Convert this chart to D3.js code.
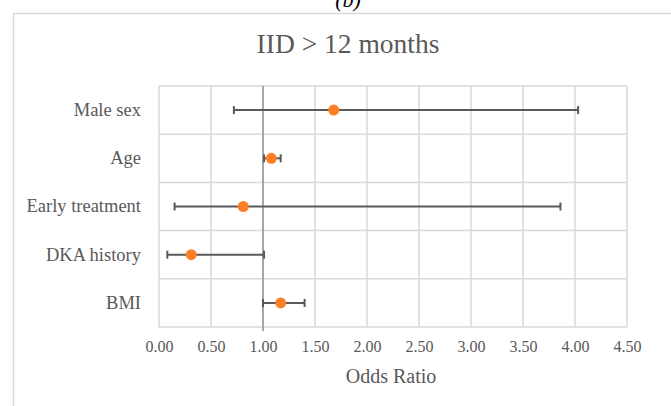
<!DOCTYPE html>
<html>
<head>
<meta charset="utf-8">
<script src="https://cdn.jsdelivr.net/npm/d3@7"></script>
<style>
  body { margin: 0; background: #fff; }
  text { font-family: "Liberation Serif", "DejaVu Serif", serif; }
</style>
</head>
<body>
<div id="chart"></div>
<script>
// DATA
const factors = ["Male sex", "Age", "Early treatment", "DKA history", "BMI"];
const oddsRatio = [1.68, 1.08, 0.81, 0.31, 1.17];
const ciLow = [0.72, 1.01, 0.15, 0.08, 1.00];
const ciHigh = [4.03, 1.17, 3.86, 1.01, 1.40];
const xTicks = [0, 0.5, 1, 1.5, 2, 2.5, 3, 3.5, 4, 4.5];

const rows = factors.map((f, i) => ({ f, or: oddsRatio[i], lo: ciLow[i], hi: ciHigh[i] }));

// SVG
const W = 671, H = 406;
const margin = { top: 86, right: 44, bottom: 79, left: 159 };
const width = W - margin.left - margin.right;
const height = H - margin.top - margin.bottom;

const root = d3.select("#chart").append("svg")
    .attr("width", W)
    .attr("height", H);

// outer chart frame (runs past the picture on right / bottom)
root.append("rect")
    .attr("x", 13.5).attr("y", 13.5)
    .attr("width", 700).attr("height", 450)
    .attr("fill", "none")
    .attr("stroke", "#d9d9d9")
    .attr("stroke-width", 1.5);

// panel letter, mostly cut off at the top like in the source figure
root.append("text")
    .attr("x", 348).attr("y", 7)
    .attr("text-anchor", "middle")
    .style("font-size", "22px")
    .style("font-style", "italic")
    .attr("fill", "#000")
    .text("(b)");

const svg = root.append("g")
    .attr("transform", `translate(${margin.left},${margin.top})`);

// SCALES
const xs = d3.scaleLinear().domain([0, 4.5]).range([0, width]);
const ys = d3.scaleBand().domain(factors).range([0, height]);

// grid
svg.append("g")
    .selectAll("line")
    .data(xTicks)
    .join("line")
    .attr("x1", d => xs(d)).attr("x2", d => xs(d))
    .attr("y1", 0).attr("y2", height)
    .attr("stroke", "#d9d9d9").attr("stroke-width", 1.5);

svg.append("g")
    .selectAll("line")
    .data(d3.range(factors.length + 1))
    .join("line")
    .attr("x1", 0).attr("x2", width)
    .attr("y1", i => i * ys.step()).attr("y2", i => i * ys.step())
    .attr("stroke", "#d9d9d9").attr("stroke-width", 1.5);

// reference line at OR = 1
svg.append("line")
    .attr("x1", xs(1)).attr("x2", xs(1))
    .attr("y1", 0).attr("y2", height + 4)
    .attr("stroke", "#a6a6a6").attr("stroke-width", 2);

// x axis labels
const xAxis = svg.append("g")
    .attr("transform", `translate(0,${height})`)
    .call(d3.axisBottom(xs).tickValues(xTicks).tickFormat(d3.format(".2f")).tickSize(0).tickPadding(14));
xAxis.select(".domain").remove();
xAxis.selectAll("text")
    .style("font-size", "16px")
    .style("font-family", "'Liberation Serif', serif")
    .attr("fill", "#595959");

// y axis labels
const yAxis = svg.append("g")
    .call(d3.axisLeft(ys).tickSize(0).tickPadding(18));
yAxis.select(".domain").remove();
yAxis.selectAll("text")
    .style("font-size", "18.5px")
    .style("font-family", "'Liberation Serif', serif")
    .attr("fill", "#595959");

// error bars
const bars = svg.append("g")
    .selectAll("g")
    .data(rows)
    .join("g")
    .attr("transform", d => `translate(0,${ys(d.f) + ys.bandwidth() / 2})`);

bars.append("line")
    .attr("x1", d => xs(d.lo)).attr("x2", d => xs(d.hi))
    .attr("stroke", "#595959").attr("stroke-width", 2);
bars.append("line")
    .attr("x1", d => xs(d.lo)).attr("x2", d => xs(d.lo))
    .attr("y1", -4).attr("y2", 4)
    .attr("stroke", "#595959").attr("stroke-width", 2);
bars.append("line")
    .attr("x1", d => xs(d.hi)).attr("x2", d => xs(d.hi))
    .attr("y1", -4).attr("y2", 4)
    .attr("stroke", "#595959").attr("stroke-width", 2);
bars.append("circle")
    .attr("cx", d => xs(d.or))
    .attr("r", 5.5)
    .attr("fill", "#ff7f27");

// title
root.append("text")
    .attr("x", 348).attr("y", 53)
    .attr("text-anchor", "middle")
    .style("font-size", "27.5px")
    .attr("fill", "#595959")
    .text("IID > 12 months");

// x axis title
root.append("text")
    .attr("x", 391).attr("y", 383)
    .attr("text-anchor", "middle")
    .style("font-size", "20px")
    .attr("fill", "#595959")
    .text("Odds Ratio");
</script>
</body>
</html>
